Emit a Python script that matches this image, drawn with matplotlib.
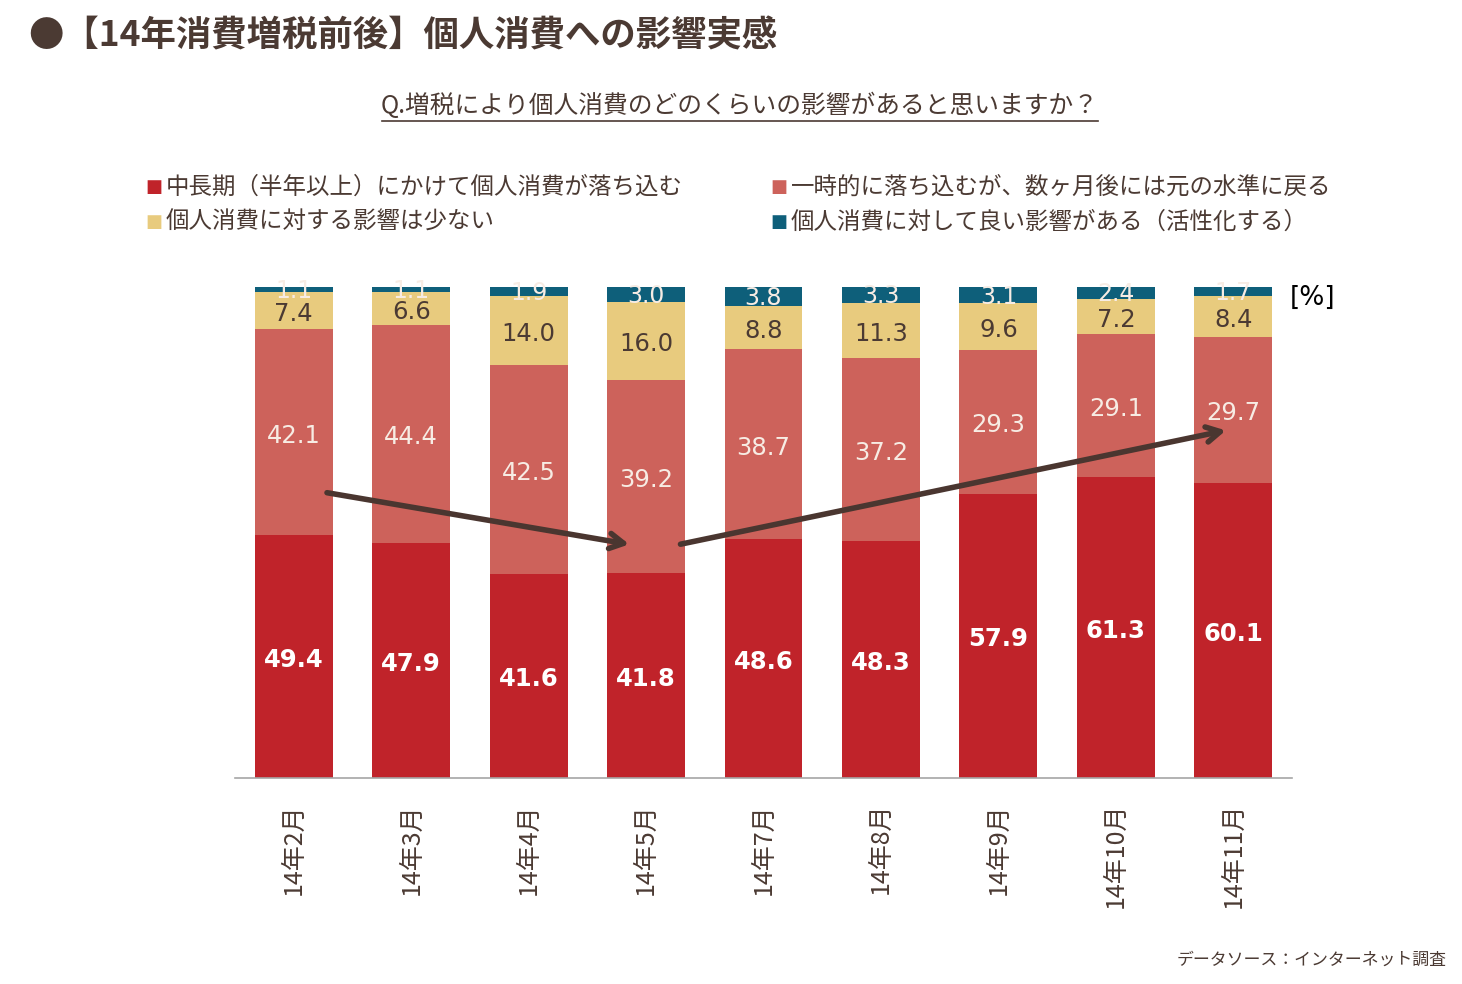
import numpy as np
import matplotlib.pyplot as plt
from matplotlib.lines import Line2D

plt.rcParams['font.family'] = ['Noto Sans CJK JP', 'DejaVu Sans']

months = ['14年2月', '14年3月', '14年4月', '14年5月', '14年7月', '14年8月', '14年9月', '14年10月', '14年11月']
long_term = [49.4, 47.9, 41.6, 41.8, 48.6, 48.3, 57.9, 61.3, 60.1]
temporary = [42.1, 44.4, 42.5, 39.2, 38.7, 37.2, 29.3, 29.1, 29.7]
little = [7.4, 6.6, 14.0, 16.0, 8.8, 11.3, 9.6, 7.2, 8.4]
positive = [1.1, 1.1, 1.9, 3.0, 3.8, 3.3, 3.1, 2.4, 1.7]

series_names = ['中長期（半年以上）にかけて個人消費が落ち込む',
                '一時的に落ち込むが、数ヶ月後には元の水準に戻る',
                '個人消費に対する影響は少ない',
                '個人消費に対して良い影響がある（活性化する）']

# arrow annotations (data coords)
arrow1 = [(0.26, 58.2), (2.88, 47.5)]
arrow2 = [(3.27, 47.5), (7.96, 70.9)]

c_red = '#C0232A'
c_salmon = '#CD625B'
c_yellow = '#E8CB7E'
c_teal = '#0E5F7A'
c_text = '#4B3A33'

fig = plt.figure(figsize=(14.62, 9.84), dpi=100)
ax = fig.add_axes([235 / 1462, 1 - 778 / 984, 1057 / 1462, 491 / 984])

x = np.arange(len(months))
w = 0.664
data = [long_term, temporary, little, positive]
colors = [c_red, c_salmon, c_yellow, c_teal]
label_colors = ['white', '#F7ECE4', c_text, '#F7ECE4']
label_sizes = [17.5, 17.5, 17.5, 17]
label_shift = [-0.7, -0.7, -0.7, -0.3]
bottom = np.zeros(len(months))
for i, (vals, col) in enumerate(zip(data, colors)):
    vals = np.array(vals)
    ax.bar(x, vals, w, bottom=bottom, color=col, zorder=2)
    for xi, b, v in zip(x, bottom, vals):
        yc = b + v / 2 + label_shift[i]
        ax.text(xi, yc, f'{v:.1f}', ha='center', va='center', color=label_colors[i],
                fontsize=label_sizes[i], fontweight='bold' if i == 0 else 'normal',
                family='DejaVu Sans', zorder=4)
    bottom += vals

for (p0, p1) in [arrow1, arrow2]:
    ax.annotate('', xy=p1, xytext=p0,
                arrowprops=dict(arrowstyle='->,head_length=1.0,head_width=0.55',
                                color='#4A3630', lw=4), zorder=5)

ax.set_xlim(-0.5, len(months) - 0.5)
ax.set_ylim(0, 100)
ax.set_xticks(x)
ax.set_xticklabels(months, rotation=90, fontsize=18, color=c_text, va='top')
ax.tick_params(axis='x', length=0, pad=18)
ax.set_yticks([])
for s in ['top', 'right', 'left']:
    ax.spines[s].set_visible(False)
ax.spines['bottom'].set_color('#A6A6A6')
ax.spines['bottom'].set_linewidth(1.2)

fig.text(1290 / 1462, 1 - 298 / 984, '[%]', fontsize=19,
         color='black', va='center', ha='left', family='DejaVu Sans')

fig.text(28 / 1462, 1 - 36 / 984, '●【14年消費増税前後】個人消費への影響実感', fontsize=25.5,
         fontweight='bold', color=c_text, va='center', ha='left')

fig.text(740 / 1462, 1 - 106 / 984, 'Q.増税により個人消費のどのくらいの影響があると思いますか？',
         fontsize=17.8, color=c_text, va='center', ha='center')
fig.add_artist(Line2D([382 / 1462, 1098 / 1462], [1 - 121 / 984, 1 - 121 / 984],
                      transform=fig.transFigure, color=c_text, lw=1.2))

leg_pos = [(145, 187), (770, 187), (145, 222), (770, 222)]
for (px, py), name, col in zip(leg_pos, series_names, colors):
    fig.text(px / 1462, 1 - py / 984, '■', fontsize=13, color=col, va='center', ha='left',
             family='DejaVu Sans')
    fig.text((px + 21) / 1462, 1 - py / 984, name, fontsize=16.9, color=c_text,
             va='center', ha='left')

fig.text(1447 / 1462, 1 - 960 / 984, 'データソース：インターネット調査', fontsize=12.2,
         color=c_text, va='center', ha='right')

fig.savefig('out.png', dpi=100)
